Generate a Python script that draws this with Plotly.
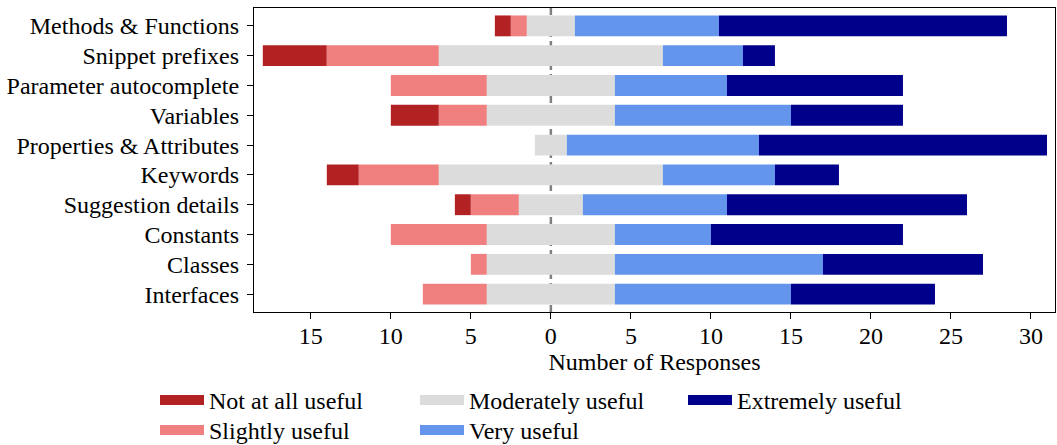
import plotly.graph_objects as go

categories = ["Methods & Functions", "Snippet prefixes", "Parameter autocomplete",
              "Variables", "Properties & Attributes", "Keywords", "Suggestion details",
              "Constants", "Classes", "Interfaces"]
not_useful = [1, 4, 0, 3, 0, 2, 1, 0, 0, 0]
slightly_useful = [1, 7, 6, 3, 0, 5, 3, 6, 1, 4]
moderately_useful = [3, 14, 8, 8, 2, 14, 4, 8, 8, 8]
very_useful = [9, 5, 7, 11, 12, 7, 9, 6, 13, 11]
extremely_useful = [18, 2, 11, 7, 18, 4, 15, 12, 10, 9]
series_names = ["Not at all useful", "Slightly useful", "Moderately useful",
                "Very useful", "Extremely useful"]
colors = ["#B22222", "#F08080", "#DCDCDC", "#6495ED", "#00008B"]
x_ticks = [-15, -10, -5, 0, 5, 10, 15, 20, 25, 30]
x_tick_labels = ["15", "10", "5", "0", "5", "10", "15", "20", "25", "30"]

FONT = "Liberation Serif"
FS = 24

series = [not_useful, slightly_useful, moderately_useful, very_useful, extremely_useful]
# bases: diverging layout centered on the middle of "Moderately useful"
bases = [[] for _ in series]
for i in range(len(categories)):
    start = -moderately_useful[i] / 2 - slightly_useful[i] - not_useful[i]
    for k, s in enumerate(series):
        bases[k].append(start)
        start += s[i]

legend_ids = ["legend", "legend2", "legend3", "legend4", "legend5"]

fig = go.Figure()
for k, s in enumerate(series):
    fig.add_trace(go.Bar(
        y=categories, x=s, base=bases[k], orientation="h",
        marker=dict(color=colors[k], line=dict(width=0)),
        width=0.7, name=series_names[k], showlegend=False,
        legendgroup=series_names[k],
    ))
# legend entries (wide swatches)
for k in range(len(series)):
    fig.add_trace(go.Scatter(
        x=[None], y=[None], mode="lines",
        line=dict(color=colors[k], width=16),
        name=series_names[k], legendgroup=series_names[k],
        legend=legend_ids[k], showlegend=True,
    ))

fig.add_shape(type="line", xref="x", yref="paper", x0=0, x1=0, y0=0, y1=1,
              line=dict(color="#808080", width=2.5, dash="7px,4px"), layer="below")

W, H = 1057, 445
L, T = 254, 8
R = W - 1055
B = H - 312
pw = W - L - R
ph = H - T - B

def lx(px):
    return (px - L) / pw

def ly(py):
    return (H - B - py) / ph

legend_common = dict(font=dict(family=FONT, size=FS, color="#000000"),
                     bgcolor="rgba(0,0,0,0)", orientation="v",
                     yanchor="top", xanchor="left", itemwidth=44,
                     tracegroupgap=0, itemclick=False)

# legend positions (pixels): columns and rows as in the reference
col_x = [155, 155, 415, 415, 683]
row_top = [378, 408, 378, 408, 378]
legend_layout = {}
for k, lid in enumerate(legend_ids):
    legend_layout[lid] = dict(x=lx(col_x[k]), y=ly(row_top[k]), **legend_common)

fig.update_layout(
    width=W, height=H,
    margin=dict(l=L, r=R, t=T, b=B, autoexpand=False),
    paper_bgcolor="white", plot_bgcolor="white",
    barmode="overlay",
    font=dict(family=FONT, size=FS, color="#000000"),
    xaxis=dict(range=[-18.55, 31.5], tickvals=x_ticks, ticktext=x_tick_labels,
               ticks="outside", ticklen=6, tickwidth=1.2, tickcolor="black",
               ticklabelstandoff=-4,
               showline=True, linecolor="black", linewidth=1.2, mirror=True,
               showgrid=False, zeroline=False,
               title=dict(text="Number of Responses", standoff=3,
                          font=dict(family=FONT, size=FS))),
    yaxis=dict(range=[9.6, -0.6], categoryorder="array", categoryarray=categories,
               ticks="outside", ticklen=6, tickwidth=1.2, tickcolor="black",
               ticklabelstandoff=3,
               showline=True, linecolor="black", linewidth=1.2, mirror=True,
               showgrid=False, zeroline=False),
    showlegend=True,
    **legend_layout,
)

fig.write_html("out.html",
               config={"displayModeBar": False},
               post_script="document.body.style.margin='0';"
                           "document.body.style.overflow='hidden';")
